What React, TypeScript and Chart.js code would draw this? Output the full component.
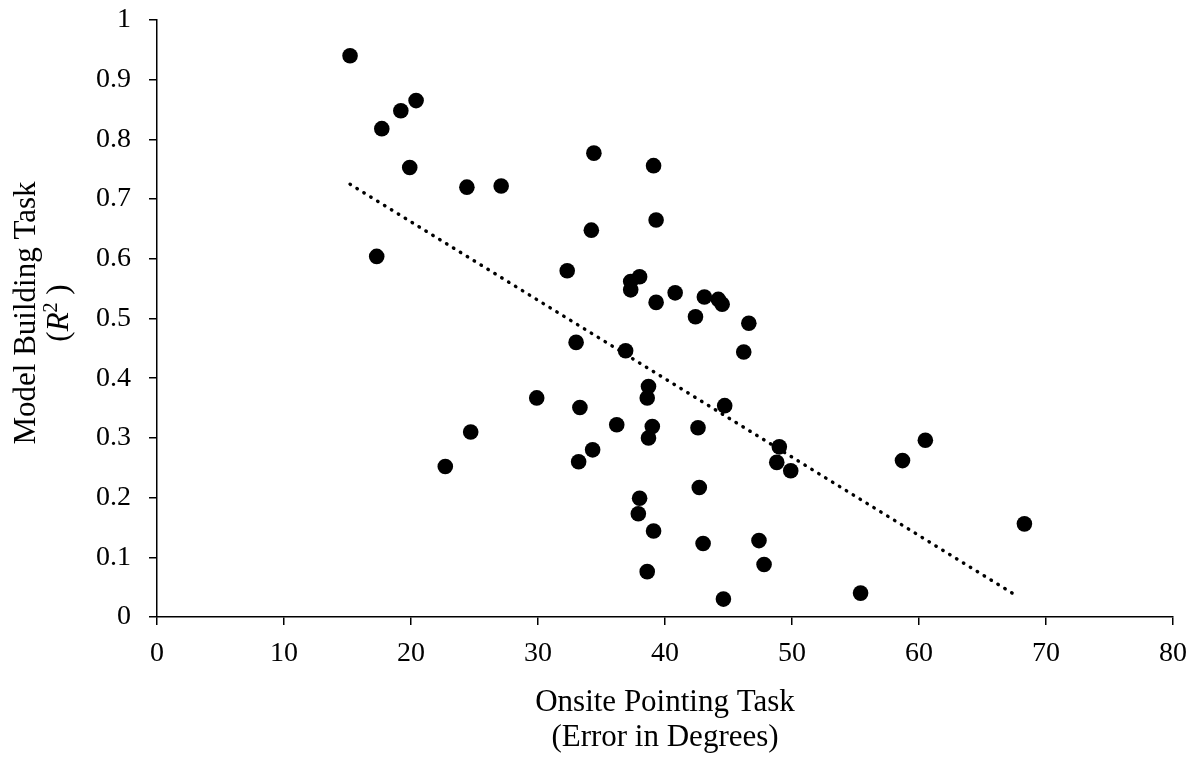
import React, { useEffect, useRef } from 'react';
import { Chart, registerables } from 'chart.js';

Chart.register(...registerables);

// Onsite pointing error (degrees)
const onsiteError = [
  15.2, 17.7, 19.2, 20.4, 19.9, 17.3, 24.4, 27.1, 22.7, 24.7,
  29.9, 32.3, 33.0, 33.3, 33.2, 34.3, 34.2, 34.4, 36.2, 36.9,
  37.3, 37.3, 38.0, 37.9, 38.0, 38.6, 38.6, 38.7, 38.7, 39.0,
  39.1, 39.1, 39.3, 39.3, 40.8, 42.4, 42.6, 42.7, 43.1, 43.0,
  44.2, 44.5, 44.7, 44.6, 46.2, 46.6, 47.4, 47.8, 48.8, 49.0,
  49.9, 55.4, 58.7, 60.5, 68.3,
];
// Model building task R^2
const modelR2 = [
  0.940, 0.818, 0.848, 0.865, 0.753, 0.604, 0.720, 0.722, 0.252, 0.310,
  0.367, 0.580, 0.460, 0.351, 0.260, 0.280, 0.648, 0.777, 0.322, 0.446,
  0.548, 0.562, 0.570, 0.173, 0.199, 0.076, 0.367, 0.386, 0.300, 0.319,
  0.144, 0.756, 0.665, 0.527, 0.543, 0.503, 0.317, 0.217, 0.536, 0.123,
  0.532, 0.524, 0.354, 0.030, 0.444, 0.492, 0.128, 0.088, 0.259, 0.285,
  0.245, 0.040, 0.262, 0.296, 0.156,
];
// Linear trendline endpoints
const trendX = [15.2, 67.8];
const trendY = [0.725, 0.034];

const xTitleLines = ['Onsite Pointing Task', '(Error in Degrees)'];
const yTitleLine1 = 'Model Building Task';
const yTitleLine2Parts = ['(', 'R', '2', ' )'];

const FONT = '"Liberation Serif", "Times New Roman", serif';

const yTitlePlugin = {
  id: 'yTitlePlugin',
  afterDraw(chart: any) {
    const ctx = chart.ctx as CanvasRenderingContext2D;
    const cy = 313;
    ctx.save();
    ctx.fillStyle = '#000';
    ctx.translate(35, cy);
    ctx.rotate(-Math.PI / 2);
    ctx.font = `31px ${FONT}`;
    ctx.textAlign = 'center';
    ctx.textBaseline = 'alphabetic';
    ctx.fillText(yTitleLine1, 0, 0);
    ctx.restore();

    ctx.save();
    ctx.fillStyle = '#000';
    ctx.translate(68, cy);
    ctx.rotate(-Math.PI / 2);
    ctx.textAlign = 'left';
    ctx.textBaseline = 'alphabetic';
    const fonts = [`31px ${FONT}`, `italic 31px ${FONT}`, `20px ${FONT}`, `31px ${FONT}`];
    const raise = [0, 0, -11, 0];
    const widths = yTitleLine2Parts.map((t, i) => {
      ctx.font = fonts[i];
      return ctx.measureText(t).width;
    });
    const total = widths.reduce((a, b) => a + b, 0);
    let x = -total / 2;
    yTitleLine2Parts.forEach((t, i) => {
      ctx.font = fonts[i];
      ctx.fillText(t, x, raise[i]);
      x += widths[i];
    });
    ctx.restore();
  },
};

export default function App() {
  const ref = useRef<HTMLCanvasElement>(null);

  useEffect(() => {
    if (!ref.current) return;
    const points = onsiteError.map((x, i) => ({ x, y: modelR2[i] }));
    const trend = trendX.map((x, i) => ({ x, y: trendY[i] }));
    const chart = new Chart(ref.current, {
      type: 'scatter',
      data: {
        datasets: [
          {
            label: 'Trend',
            data: trend,
            showLine: true,
            borderColor: '#000',
            borderWidth: 3.4,
            borderDash: [0.5, 7.6],
            borderCapStyle: 'round',
            pointRadius: 0,
            fill: false,
          } as any,
          {
            label: 'Participants',
            data: points,
            backgroundColor: '#000',
            borderWidth: 0,
            pointRadius: 7.8,
            pointHoverRadius: 7.8,
          },
        ],
      },
      options: {
        responsive: false,
        animation: false,
        events: [],
        layout: { padding: { left: 0, right: 24, top: 20, bottom: 0 } },
        plugins: {
          legend: { display: false },
          tooltip: { enabled: false },
        },
        scales: {
          x: {
            type: 'linear',
            min: 0,
            max: 80,
            afterFit: (s: any) => {
              s.height = 142;
              s.paddingLeft = 0;
              s.paddingRight = 0;
            },
            ticks: {
              stepSize: 10,
              color: '#000',
              font: { family: FONT, size: 28 },
              padding: 12,
            },
            grid: { drawOnChartArea: false, drawTicks: true, tickLength: 8, color: '#000', lineWidth: 1.5 },
            border: { color: '#000', width: 1.5 },
            title: {
              display: true,
              text: xTitleLines,
              color: '#000',
              font: { family: FONT, size: 31, lineHeight: 1.15 },
              padding: { top: 0, bottom: 3 },
            },
          },
          y: {
            type: 'linear',
            min: 0,
            max: 1,
            afterFit: (s: any) => {
              s.width = 157;
              s.paddingTop = 0;
              s.paddingBottom = 0;
            },
            ticks: {
              stepSize: 0.1,
              color: '#000',
              font: { family: FONT, size: 28 },
              padding: 18,
              callback: (v: any) => String(Number(Number(v).toFixed(1))),
            },
            grid: { drawOnChartArea: false, drawTicks: true, tickLength: 8, color: '#000', lineWidth: 1.5 },
            border: { color: '#000', width: 1.5 },
          },
        },
      },
      plugins: [yTitlePlugin],
    });
    return () => chart.destroy();
  }, []);

  return (
    <div style={{ position: 'fixed', left: 0, top: 0, width: 1197, height: 759, background: '#fff' }}>
      <canvas ref={ref} width={1197} height={759} style={{ display: 'block' }} />
    </div>
  );
}
